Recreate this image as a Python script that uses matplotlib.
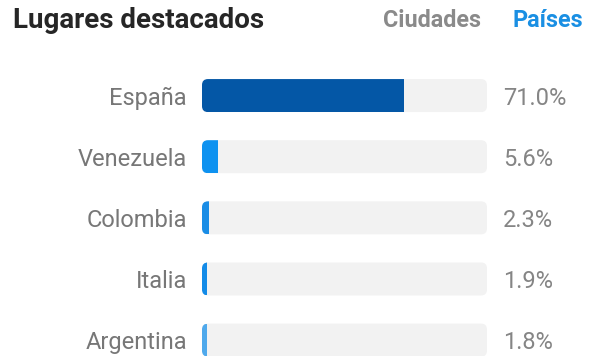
import matplotlib
matplotlib.use("Agg")
import matplotlib.pyplot as plt
from matplotlib.patches import FancyBboxPatch

plt.rcParams['font.family'] = ['Roboto', 'DejaVu Sans']

paises = ["España", "Venezuela", "Colombia", "Italia", "Argentina"]
porcentajes = [71.0, 5.6, 2.3, 1.9, 1.8]
etiquetas = ["71.0%", "5.6%", "2.3%", "1.9%", "1.8%"]
colores = ["#0457A6", "#0E92F0", "#1A8DE6", "#138BE8", "#4FA9EC"]

titulo = "Lugares destacados"
pestanas = ["Ciudades", "Países"]

W, H = 598, 356
fig = plt.figure(figsize=(W / 100, H / 100), dpi=100)
fig.patch.set_facecolor("white")

# axes covering the bar track area (pixels 202..487 horizontally)
ax = fig.add_axes([202 / W, 0, 285 / W, (H - 65) / H])
ax.set_xlim(0, 100)
ax.set_ylim(4.26, -0.5)
ax.axis("off")

# rounding radius in pixels -> data units
px_x = 100 / 285
px_y = 4.76 / (H - 65)
r = 6 * px_x
aspect = px_y / px_x

alto = 0.54
for i, (nombre, valor, etiqueta, color) in enumerate(zip(paises, porcentajes, etiquetas, colores)):
    pista = FancyBboxPatch((0, i - alto / 2), 100, alto,
                           boxstyle=f"round,pad=0,rounding_size={r}",
                           mutation_aspect=aspect,
                           facecolor="#F2F2F2", edgecolor="none", zorder=1)
    ax.add_patch(pista)
    barras = ax.barh([i], [valor], height=alto, left=0, color=color, zorder=2)
    for b in barras:
        b.set_clip_path(pista)
    ax.annotate(nombre, xy=(0, i), xytext=(-15 * 0.72, -9 * 0.72),
                textcoords="offset points", ha="right", va="baseline",
                fontsize=17, color="#777777")
    ax.annotate(etiqueta, xy=(100, i), xytext=(16 * 0.72, -9 * 0.72),
                textcoords="offset points", ha="left", va="baseline",
                fontsize=17, color="#858585")

fig.text(13 / W, 1 - 27.5 / H, titulo, fontsize=20, fontweight="bold",
         color="#262626", ha="left", va="baseline")
fig.text(383 / W, 1 - 27 / H, pestanas[0], fontsize=16.8, fontweight="bold",
         color="#8A8A8A", ha="left", va="baseline")
fig.text(513 / W, 1 - 27 / H, pestanas[1], fontsize=16.8, fontweight="bold",
         color="#1A8FE3", ha="left", va="baseline")

fig.savefig("out.png", dpi=100, facecolor="white")
